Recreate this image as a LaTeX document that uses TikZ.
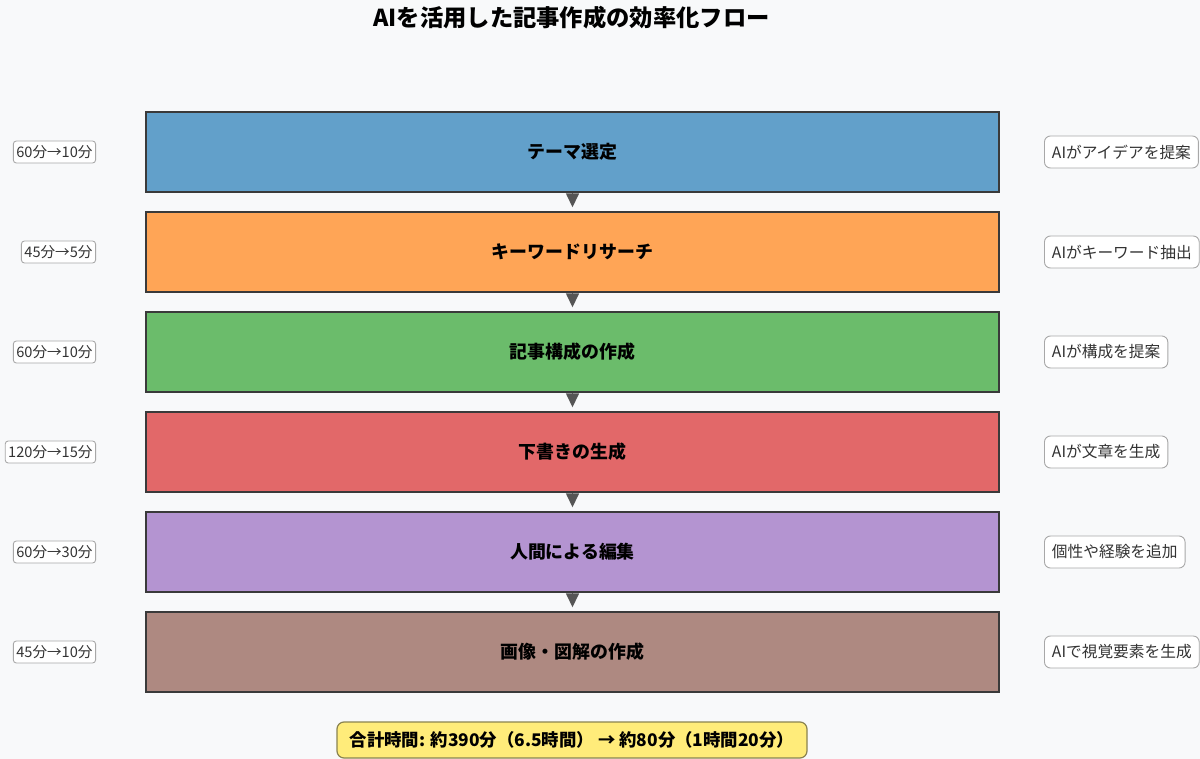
\documentclass[tikz,border=0pt]{standalone}
\usepackage{fontspec}
\setmainfont{Noto Sans CJK JP}
\usetikzlibrary{arrows.meta}
\definecolor{bg}{HTML}{F8F9FA}
\definecolor{cblue}{HTML}{62A0CA}
\definecolor{corange}{HTML}{FFA556}
\definecolor{cgreen}{HTML}{6BBC6B}
\definecolor{cred}{HTML}{E26869}
\definecolor{cpurple}{HTML}{B494D1}
\definecolor{cbrown}{HTML}{AE8981}
\definecolor{edge}{HTML}{3A3A3A}
\definecolor{arr}{HTML}{555555}
\definecolor{lblborder}{HTML}{A8A8A8}
\definecolor{lbltext}{HTML}{333333}
\definecolor{sumfill}{HTML}{FFEC7A}
\definecolor{sumedge}{HTML}{8A8350}
\begin{document}
\begin{tikzpicture}[x=1pt,y=-1pt,
  stepbox/.style={draw=edge,line width=1.4pt,minimum width=853pt,minimum height=80pt,inner sep=0pt,
    font=\fontsize{17.9}{21}\selectfont\bfseries,text=black},
  leftlbl/.style={draw=lblborder,line width=0.9pt,rounded corners=3pt,fill=white,anchor=east,
    minimum height=22pt,inner xsep=3pt,inner ysep=0pt,text=lbltext,font=\fontsize{14.6}{17}\selectfont},
  rightlbl/.style={draw=lblborder,line width=0.9pt,rounded corners=6pt,fill=white,anchor=west,
    minimum height=32pt,inner xsep=7.5pt,inner ysep=0pt,text=lbltext,font=\fontsize{15.7}{18}\selectfont},
  flowarrow/.style={draw=arr,line width=1.5pt,-{Triangle[length=14pt,width=13pt]},shorten >=4pt}
]
\useasboundingbox[fill=bg] (0,0) rectangle (1200,759);

\node[font=\fontsize{23.3}{27}\selectfont\bfseries] (title) at (571.5,18) {AIを活用した記事作成の効率化フロー};

\node[stepbox,fill=cblue]   (s1) at (572.5,152) {テーマ選定};
\node[stepbox,fill=corange] (s2) at (572.5,252) {キーワードリサーチ};
\node[stepbox,fill=cgreen]  (s3) at (572.5,352) {記事構成の作成};
\node[stepbox,fill=cred]    (s4) at (572.5,452) {下書きの生成};
\node[stepbox,fill=cpurple] (s5) at (572.5,552) {人間による編集};
\node[stepbox,fill=cbrown]  (s6) at (572.5,652) {画像・図解の作成};

\draw[flowarrow] (s1.south) -- (s2.north);
\draw[flowarrow] (s2.south) -- (s3.north);
\draw[flowarrow] (s3.south) -- (s4.north);
\draw[flowarrow] (s4.south) -- (s5.north);
\draw[flowarrow] (s5.south) -- (s6.north);

\node[leftlbl] (l1) at (96,152) {60分→10分};
\node[leftlbl] (l2) at (96,252) {45分→5分};
\node[leftlbl] (l3) at (96,352) {60分→10分};
\node[leftlbl] (l4) at (96,452) {120分→15分};
\node[leftlbl] (l5) at (96,552) {60分→30分};
\node[leftlbl] (l6) at (96,652) {45分→10分};

\node[rightlbl] (r1) at (1044,152) {AIがアイデアを提案};
\node[rightlbl] (r2) at (1044,252) {AIがキーワード抽出};
\node[rightlbl] (r3) at (1044,352) {AIが構成を提案};
\node[rightlbl] (r4) at (1044,452) {AIが文章を生成};
\node[rightlbl] (r5) at (1044,552) {個性や経験を追加};
\node[rightlbl] (r6) at (1044,652) {AIで視覚要素を生成};

\node[draw=sumedge,fill=sumfill,line width=1.2pt,rounded corners=7pt,minimum width=470pt,minimum height=36pt,
  inner sep=0pt,font=\fontsize{17.4}{20}\selectfont\bfseries] (sum) at (572,740)
  {合計時間: 約390分（6.5時間） → 約80分（1時間20分）};
\end{tikzpicture}
\end{document}
